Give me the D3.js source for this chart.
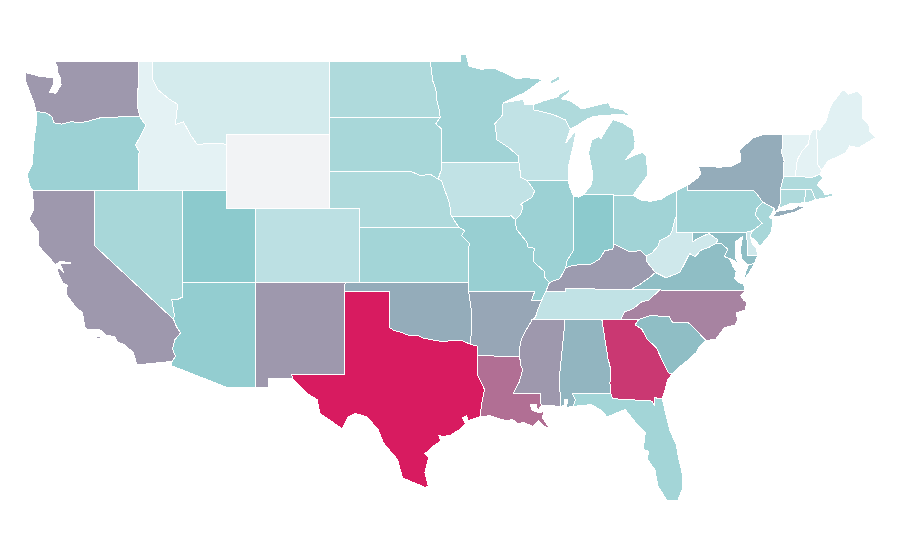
<!DOCTYPE html>
<html>
<head>
<meta charset="utf-8">
<title>US states</title>
<script src="https://d3js.org/d3.v7.min.js"></script>
<style>
  html, body { margin: 0; background: #fff; }
  svg { display: block; }
  .state { stroke: #fff; stroke-width: 1; shape-rendering: crispEdges; }
</style>
</head>
<body>
<svg id="map" width="900" height="560"></svg>
<script>
/* ── Data ──────────────────────────────────────────────────────────── */

const stateNames = ['AL','AR','AZ','CA','CO','CT','DE','FL','GA','IA','ID','IL','IN','KS','KY','LA','MA','MD','ME','MI','MN','MO','MS','MT','NC','ND','NE','NH','NJ','NM','NV','NY','OH','OK','OR','PA','RI','SC','SD','TN','TX','UT','VA','VT','WA','WI','WV','WY'];

// 0 means no data
const stateValues = [47,52,37,57,19,25,11,30,90,17,2,33,40,30,56,71,25,44,3,25,31,35,57,9,64,25,25,2,28,57,28,50,31,50,33,31,25,44,28,17,100,40,44,2,57,17,11,0];

// lon,lat outlines, one string per ring
const stateRings = {
  AL: ['-88.2,35 -85.6,35 -85.18,32.87 -85,32.3 -85.05,31.55 -85,31 -87.6,31 -87.4,30.65 -87.52,30.28 -88,30.23 -87.9,30.65 -88.1,30.65 -88.15,30.35 -88.4,30.25 -88.47,31.9 -88.1,34.9'],
  AR: ['-94.62,36.5 -90.15,36.5 -90.38,36 -89.7,36 -89.95,35.5 -90.1,35.1 -90.3,35 -90.6,34.6 -90.95,34.1 -91.1,33.8 -91.2,33.3 -91.17,33 -94.04,33.02 -94.04,33.55 -94.48,33.64 -94.43,35.4'],
  AZ: ['-114.04,37 -109.05,37 -109.05,31.33 -111.07,31.33 -114.81,32.5 -114.72,32.72 -114.5,33 -114.7,33.4 -114.53,33.9 -114.15,34.27 -114.43,34.6 -114.63,35 -114.57,35.2 -114.75,36.1 -114.3,36.1 -114.04,36.2'],
  CA: ['-124.2,42 -120,42 -120,39 -114.63,35 -114.43,34.6 -114.15,34.27 -114.53,33.9 -114.7,33.4 -114.5,33 -114.72,32.72 -117.12,32.53 -117.35,33.2 -118,33.65 -118.4,33.75 -118.6,34.05 -119.2,34.15 -119.6,34.42 -120.5,34.45 -120.65,34.6 -120.8,35.35 -121.3,35.7 -121.85,36.3 -121.9,36.6 -121.8,36.85 -122.1,36.95 -122.45,37.5 -122.48,37.75 -122.3,37.75 -122.05,37.5 -122.2,37.8 -122.35,38 -121.6,38.05 -122.3,38.15 -122.55,38 -122.5,37.83 -123,38.3 -123.75,38.95 -123.8,39.75 -124.3,40.3 -124.4,40.45 -124.1,41 -124.2,42',
       '-119.9,34.07 -119.55,34.05 -119.6,33.97 -119.85,33.97', '-118.6,33.48 -118.35,33.4 -118.5,33.33'],
  CO: ['-109.05,41 -102.05,41 -102.05,37 -109.05,37'],
  CT: ['-73.5,42.05 -71.8,42.02 -71.85,41.32 -72.9,41.25 -73.65,41 -73.5,41.3'],
  DE: ['-75.79,39.72 -75.4,39.8 -75.55,39.5 -75.4,39.1 -75.1,38.8 -75.05,38.45 -75.7,38.46'],
  FL: ['-87.6,31 -85,31 -84.86,30.7 -82.2,30.57 -82.05,30.36 -82.05,30.75 -81.5,30.7 -81.3,30 -81,29 -80.55,28.2 -80.4,27.5 -80.1,26.45 -80.15,25.8 -80.45,25.2 -81.15,25.15 -81.8,25.95 -82,26.85 -82.5,27.4 -82.45,27.85 -82.8,27.95 -82.65,28.85 -83.35,29.45 -84,30.1 -84.25,30.05 -85.25,29.7 -85.6,30.05 -86.3,30.38 -87.52,30.28 -87.4,30.65'],
  GA: ['-85.6,35 -83.1,35 -83.35,34.7 -82.9,34.48 -82.55,33.95 -81.9,33.45 -81.4,32.6 -81.1,32.1 -80.85,32.03 -81.15,31.7 -81.3,31.2 -81.5,30.7 -82.05,30.75 -82.05,30.36 -82.2,30.57 -84.86,30.7 -85,31 -85.05,31.55 -85,32.3 -85.18,32.87'],
  IA: ['-96.45,43.5 -91.22,43.5 -91.15,43.1 -91.1,42.7 -90.65,42.51 -90.15,41.95 -90.35,41.6 -91.1,41.25 -90.95,41.1 -91.1,40.7 -91.45,40.4 -91.72,40.6 -95.77,40.58 -95.85,40.7 -95.9,41.2 -96.1,41.7 -96.25,42 -96.45,42.49 -96.7,42.6 -96.5,43.05'],
  ID: ['-117.03,49 -116.05,49 -116.05,48 -115.7,47.45 -114.95,46.95 -114.35,46.65 -114.5,45.55 -113.95,45.7 -113.45,44.95 -113,44.45 -112.3,44.55 -111.5,44.55 -111.05,44.48 -111.05,42 -117.03,42 -117.03,43.8 -116.95,44.1 -117.03,44.2 -117.2,44.45 -116.85,44.95 -116.5,45.5 -116.78,45.82 -116.92,46 -117.04,46.42'],
  IL: ['-87.53,39.35 -87.55,38.7 -87.95,38.2 -88.05,37.8 -88.45,37.2 -89.15,37 -89.5,37.3 -89.5,37.6 -90.2,38.1 -90.2,38.7 -90.15,38.85 -90.6,38.9 -90.7,39.2 -91.4,39.9 -91.45,40.4 -91.1,40.7 -90.95,41.1 -91.1,41.25 -90.35,41.6 -90.15,41.95 -90.65,42.51 -87.85,42.5 -87.8,42.2 -87.53,41.7'],
  IN: ['-87.53,41.7 -87.2,41.62 -86.85,41.76 -84.82,41.76 -84.82,39.1 -84.85,38.8 -85.4,38.72 -85.75,38.27 -86.3,38 -86.8,37.98 -87.5,37.93 -88.05,37.8 -87.95,38.2 -87.55,38.7 -87.53,39.35'],
  KS: ['-102.05,40 -95.31,40 -94.9,39.8 -95.1,39.55 -94.6,39.12 -94.62,37 -102.04,37'],
  KY: ['-89.4,36.5 -88.07,36.5 -88.07,36.68 -83.68,36.6 -83.1,36.85 -82.3,37.3 -81.97,37.54 -82.6,38.17 -82.6,38.42 -83,38.73 -83.7,38.65 -84.2,38.85 -84.82,39.1 -84.85,38.8 -85.4,38.72 -85.75,38.27 -86.3,38 -86.8,37.98 -87.5,37.93 -88.05,37.8 -88.45,37.2 -89.15,37'],
  LA: ['-94.04,33.02 -91.17,33 -91.1,32.5 -90.95,32.3 -91.2,31.6 -91.6,31 -89.73,31 -89.72,30.3 -89.95,30.05 -90.05,30.37 -90.45,30.37 -90.3,30.05 -89.85,29.95 -89.5,30 -89.65,29.67 -89.35,29.35 -89.15,29.07 -89.6,29.25 -89.9,29.5 -90.25,29.2 -90.9,29.4 -91.3,29.35 -91.7,29.6 -91.85,29.5 -92.3,29.55 -93.2,29.78 -93.85,29.72 -93.75,30.4 -93.55,31.2 -94.04,31.99'],
  MA: ['-73.5,42.05 -73.27,42.75 -72.5,42.73 -71.3,42.7 -70.82,42.87 -70.6,42.65 -71,42.3 -70.65,42 -70.5,41.78 -70,41.8 -70.05,42.05 -69.95,41.7 -70.6,41.55 -71.12,41.5 -71.2,41.65 -71.38,42.02 -71.8,42.02'],
  MD: ['-79.48,39.72 -75.79,39.72 -75.7,38.46 -75.05,38.45 -75.25,38.03 -75.65,37.95 -75.85,38.05 -76.1,38.25 -76.2,38.65 -76.15,39.1 -76.05,39.5 -76.55,39.2 -76.55,38.65 -76.55,38.35 -76.35,38.05 -76.95,38.3 -77.3,38.4 -77.05,38.8 -77.5,39.1 -77.83,39.13 -77.75,39.32 -78.35,39.65 -78.9,39.45 -79.48,39.2'],
  ME: ['-71.03,45.3 -70.85,45.25 -70.4,45.75 -70.25,46.2 -70,46.7 -69.25,47.46 -68.9,47.2 -68.3,47.35 -67.95,47.1 -67.95,45.9 -67.5,45.55 -67.45,45.2 -67.05,44.85 -68.2,44.3 -68.8,44.4 -69.05,44.05 -69.8,43.75 -70.25,43.6 -70.7,43.07 -70.98,43.4'],
  MI: ['-90.25,46.36 -90.25,46.63 -89.5,46.85 -88.55,47.07 -88.5,47.2 -87.8,47.48 -87.75,47.35 -88.35,46.95 -87.75,46.85 -86.95,46.4 -85.15,46.75 -85,46.5 -84.2,46.35 -83.65,46.05 -84.55,46.1 -86.15,46 -86.6,45.85 -87.4,45.45 -87.75,45.3 -88.05,45.8 -88.9,46.1',
       '-84.85,45.82 -85.2,45.4 -85.55,44.95 -85.65,44.8 -85.85,44.9 -86.3,44.7 -86.5,44 -86.2,42.85 -86.3,42.3 -86.85,41.76 -84.82,41.76 -84.82,41.7 -83.5,41.72 -83.2,42.05 -82.5,42.8 -82.5,43.05 -82.6,43.85 -82.85,44.05 -83.35,43.9 -84,43.65 -83.4,44.25 -83.35,44.65 -83.5,45.3 -84.2,45.65',
       '-89.2,47.85 -88.5,48.2 -88.45,47.98 -89,47.78'],
  MN: ['-97.23,49 -95.15,49 -95.15,49.38 -94.8,49.33 -94.6,48.72 -93.8,48.55 -92.95,48.62 -92,48.3 -91.4,48.05 -90.75,48.1 -89.6,48 -90.8,47.3 -92.27,46.74 -92.3,46.65 -92.3,46.1 -92.85,45.6 -92.75,45 -92.75,44.75 -91.9,44.3 -91.25,43.85 -91.22,43.5 -96.45,43.5 -96.45,45.3 -96.85,45.6 -96.56,45.94 -96.6,46.3 -96.8,46.9 -96.85,47.5 -97.05,47.9 -97.15,48.5'],
  MO: ['-95.77,40.58 -91.72,40.6 -91.45,40.4 -91.4,39.9 -90.7,39.2 -90.6,38.9 -90.15,38.85 -90.2,38.7 -90.2,38.1 -89.5,37.6 -89.5,37.3 -89.15,37 -89.4,36.5 -89.7,36 -90.38,36 -90.15,36.5 -94.62,36.5 -94.62,37 -94.6,39.12 -95.1,39.55 -94.9,39.8 -95.31,40'],
  MS: ['-90.3,35 -88.2,35 -88.1,34.9 -88.47,31.9 -88.4,30.25 -89.1,30.35 -89.72,30.3 -89.73,31 -91.6,31 -91.2,31.6 -90.95,32.3 -91.1,32.5 -91.17,33 -91.2,33.3 -91.1,33.8 -90.95,34.1 -90.6,34.6'],
  MT: ['-116.05,49 -104.05,49 -104.05,45 -111.05,45 -111.05,44.48 -111.5,44.55 -112.3,44.55 -113,44.45 -113.45,44.95 -113.95,45.7 -114.5,45.55 -114.35,46.65 -114.95,46.95 -115.7,47.45 -116.05,48'],
  NC: ['-81.68,36.59 -75.87,36.55 -76.2,36.3 -76,36.05 -75.75,35.9 -75.9,35.5 -76.5,35.35 -76.4,35 -76.55,34.7 -77.3,34.55 -77.9,33.9 -78.55,33.86 -79.68,34.8 -80.8,34.82 -81.05,35.15 -82.3,35.2 -83.1,35 -84.32,35 -84.05,35.4 -83.5,35.57 -82.9,35.95 -82.4,36.05'],
  ND: ['-104.05,49 -97.23,49 -97.15,48.5 -97.05,47.9 -96.85,47.5 -96.8,46.9 -96.6,46.3 -96.56,45.94 -104.05,45.94'],
  NE: ['-104.05,43 -98.5,43 -97.9,42.8 -97.2,42.85 -96.7,42.6 -96.45,42.49 -96.25,42 -96.1,41.7 -95.9,41.2 -95.85,40.7 -95.77,40.58 -95.31,40 -102.05,40 -102.05,41 -104.05,41'],
  NH: ['-71.5,45 -71.3,45.3 -71.03,45.3 -70.98,43.4 -70.7,43.07 -70.82,42.87 -71.3,42.7 -72.5,42.73 -72.45,43 -72.35,43.65 -72.05,44.1 -71.6,44.5'],
  NJ: ['-74.7,41.36 -73.9,41 -74.25,40.5 -74,40.45 -74.1,39.75 -74.4,39.4 -74.9,38.95 -75.1,39.2 -75.55,39.5 -75.4,39.8 -75.13,39.95 -74.75,40.2 -75.2,40.65 -75.1,41'],
  NM: ['-109.05,37 -103,37 -103.04,32 -106.62,32 -106.53,31.78 -108.21,31.78 -108.21,31.33 -109.05,31.33'],
  NV: ['-120,42 -114.04,42 -114.04,36.2 -114.3,36.1 -114.75,36.1 -114.57,35.2 -114.63,35 -120,39'],
  NY: ['-79.76,42.27 -79.05,42.7 -78.9,42.9 -79.05,43.27 -77.5,43.25 -76.8,43.3 -76.2,43.55 -76.25,44.2 -75.3,44.85 -74.7,45 -73.34,45 -73.4,44 -73.25,43.6 -73.27,42.75 -73.5,42.05 -73.5,41.3 -73.65,41 -73.9,40.8 -73.9,41 -74.7,41.36 -75.05,41.75 -75.35,42 -79.76,42',
       '-74,40.6 -73.75,40.85 -72.6,40.98 -72.3,41.15 -71.87,41.07 -72.5,40.82 -73.6,40.58'],
  OH: ['-84.82,41.7 -83.5,41.72 -82.9,41.45 -82.3,41.4 -81.6,41.5 -81,41.8 -80.52,41.98 -80.52,40.64 -80.65,40.4 -80.85,39.75 -81,39.55 -81.7,39.25 -81.75,39 -82.2,38.6 -82.6,38.42 -83,38.73 -83.7,38.65 -84.2,38.85 -84.82,39.1'],
  OK: ['-103,37 -94.62,37 -94.62,36.5 -94.43,35.4 -94.48,33.64 -95.2,33.88 -95.8,33.85 -96.4,33.78 -96.8,33.85 -97.2,33.9 -97.7,33.98 -98.1,34.13 -98.5,34.1 -98.95,34.2 -99.2,34.3 -99.7,34.4 -100,34.56 -100,36.5 -103.04,36.5'],
  OR: ['-123.95,46.25 -123.4,46.22 -123.15,46.15 -122.85,45.95 -122.75,45.65 -122.2,45.58 -121.5,45.72 -121.1,45.65 -120.5,45.72 -119.6,45.92 -119,45.95 -116.92,46 -116.78,45.82 -116.5,45.5 -116.85,44.95 -117.2,44.45 -117.03,44.2 -116.95,44.1 -117.03,43.8 -117.03,42 -124.2,42 -124.4,42.3 -124.55,42.84 -124.2,43.4 -124.1,44.6 -123.95,45.5'],
  PA: ['-80.52,41.98 -79.76,42.27 -79.76,42 -75.35,42 -75.05,41.75 -74.7,41.36 -75.1,41 -75.2,40.65 -74.75,40.2 -75.13,39.95 -75.4,39.8 -75.79,39.72 -80.52,39.72'],
  RI: ['-71.8,42.02 -71.38,42.02 -71.2,41.65 -71.12,41.5 -71.5,41.37 -71.85,41.32'],
  SC: ['-83.1,35 -82.3,35.2 -81.05,35.15 -80.8,34.82 -79.68,34.8 -78.55,33.86 -79,33.5 -79.2,33.2 -79.9,32.7 -80.45,32.35 -80.85,32.03 -81.1,32.1 -81.4,32.6 -81.9,33.45 -82.55,33.95 -82.9,34.48 -83.35,34.7'],
  SD: ['-104.05,45.94 -96.56,45.94 -96.85,45.6 -96.45,45.3 -96.45,43.5 -96.5,43.05 -96.7,42.6 -97.2,42.85 -97.9,42.8 -98.5,43 -104.05,43'],
  TN: ['-90.3,35 -90.1,35.1 -89.95,35.5 -89.7,36 -89.4,36.5 -88.07,36.5 -88.07,36.68 -83.68,36.6 -81.68,36.59 -82.4,36.05 -82.9,35.95 -83.5,35.57 -84.05,35.4 -84.32,35 -85.6,35 -88.2,35'],
  TX: ['-103.04,36.5 -100,36.5 -100,34.56 -99.7,34.4 -99.2,34.3 -98.95,34.2 -98.5,34.1 -98.1,34.13 -97.7,33.98 -97.2,33.9 -96.8,33.85 -96.4,33.78 -95.8,33.85 -95.2,33.88 -94.48,33.64 -94.04,33.55 -94.04,33.02 -94.04,31.99 -93.55,31.2 -93.75,30.4 -93.85,29.72 -94.7,29.5 -94.75,29.8 -95.05,29.65 -94.85,29.35 -95.3,29 -95.85,28.72 -96.4,28.65 -96.65,28.7 -96.5,28.4 -97.1,28.1 -97.35,27.85 -97.6,27.75 -97.35,27.5 -97.6,26.7 -97.35,25.95 -97.6,25.9 -98.2,26.1 -99.1,26.4 -99.45,27.4 -100.4,28.3 -100.75,29 -101.5,29.7 -102.3,29.9 -102.8,29.7 -103.2,29.07 -104.7,29.9 -104.9,30.65 -105.6,31 -106.2,31.47 -106.53,31.78 -106.62,32 -103.04,32'],
  UT: ['-114.04,42 -111.05,42 -111.05,41 -109.05,41 -109.05,37 -114.04,37'],
  VA: ['-83.68,36.6 -81.68,36.59 -75.87,36.55 -76,36.9 -76.3,37 -76.6,37.2 -76.5,37.6 -76.7,37.85 -76.95,38.3 -77.3,38.4 -77.05,38.8 -77.5,39.1 -77.83,39.13 -78.35,38.9 -78.87,38.75 -79.3,38.4 -79.65,38.57 -80.3,37.55 -81.25,37.25 -81.97,37.54 -82.3,37.3 -83.1,36.85',
       '-75.97,37.15 -75.85,37.6 -75.65,37.95 -75.25,38.03 -75.6,37.55'],
  VT: ['-73.34,45 -71.5,45 -71.6,44.5 -72.05,44.1 -72.35,43.65 -72.45,43 -72.5,42.73 -73.27,42.75 -73.25,43.6 -73.4,44'],
  WA: ['-117.03,49 -122.7,49 -122.5,48.7 -122.45,48.3 -122.3,48.1 -122.25,47.7 -122.6,47.25 -123.05,47.3 -122.75,47.75 -122.75,48.1 -123.1,48.12 -123.7,48.17 -124.7,48.38 -124.65,47.9 -124.2,46.95 -124.05,46.65 -123.95,46.25 -123.4,46.22 -123.15,46.15 -122.85,45.95 -122.75,45.65 -122.2,45.58 -121.5,45.72 -121.1,45.65 -120.5,45.72 -119.6,45.92 -119,45.95 -116.92,46 -117.04,46.42'],
  WI: ['-92.27,46.74 -90.9,46.92 -90.85,46.65 -90.25,46.63 -90.25,46.36 -88.9,46.1 -88.05,45.8 -87.75,45.3 -88.05,44.55 -87.65,44.95 -87.35,45.25 -87.45,44.7 -87.6,44.2 -87.85,43.3 -87.85,42.5 -90.65,42.51 -91.1,42.7 -91.15,43.1 -91.22,43.5 -91.25,43.85 -91.9,44.3 -92.75,44.75 -92.75,45 -92.85,45.6 -92.3,46.1 -92.3,46.65'],
  WV: ['-80.52,40.64 -80.52,39.72 -79.48,39.72 -79.48,39.2 -78.9,39.45 -78.35,39.65 -77.75,39.32 -77.83,39.13 -78.35,38.9 -78.87,38.75 -79.3,38.4 -79.65,38.57 -80.3,37.55 -81.25,37.25 -81.97,37.54 -82.6,38.17 -82.6,38.42 -82.2,38.6 -81.75,39 -81.7,39.25 -81,39.55 -80.85,39.75 -80.65,40.4'],
  WY: ['-111.05,45 -104.05,45 -104.05,41 -111.05,41']
};

// stops on the value scale and the colours they map to
const colorStops = [0, 1, 40, 50, 100];
const colorRange = ['#f2f3f5', '#e6f3f5', '#8ccacd', '#94acba', '#d81b60'];

/* ── Scales ────────────────────────────────────────────────────────── */

const width = 900, height = 560;

// the map is a plain lon/lat grid, stretched separately on each axis
const xScale = d3.scaleLinear().domain([-124.73, -66.95]).range([24.5, 877]);
const yScale = d3.scaleLinear().domain([49, 25.1]).range([61, 502]);
const color = d3.scaleLinear().domain(colorStops).range(colorRange);

const projection = d3.geoTransform({
  point(lon, lat) { this.stream.point(xScale(lon), yScale(lat)); }
});
const path = d3.geoPath(projection);

/* ── Geometry ──────────────────────────────────────────────────────── */

function parseRing(str) {
  const pts = str.split(' ').map(p => p.split(',').map(Number));
  pts.push(pts[0]);
  return pts;
}

const features = stateNames.map((name, i) => ({
  type: 'Feature',
  id: name,
  properties: { value: stateValues[i] },
  geometry: {
    type: 'MultiPolygon',
    coordinates: stateRings[name].map(r => [parseRing(r)])
  }
}));

/* ── Render ────────────────────────────────────────────────────────── */

d3.select('#map')
  .attr('viewBox', `0 0 ${width} ${height}`)
  .append('g')
  .selectAll('path')
  .data(features)
  .join('path')
  .attr('class', 'state')
  .attr('d', path)
  .attr('fill', d => color(d.properties.value));
</script>
</body>
</html>
